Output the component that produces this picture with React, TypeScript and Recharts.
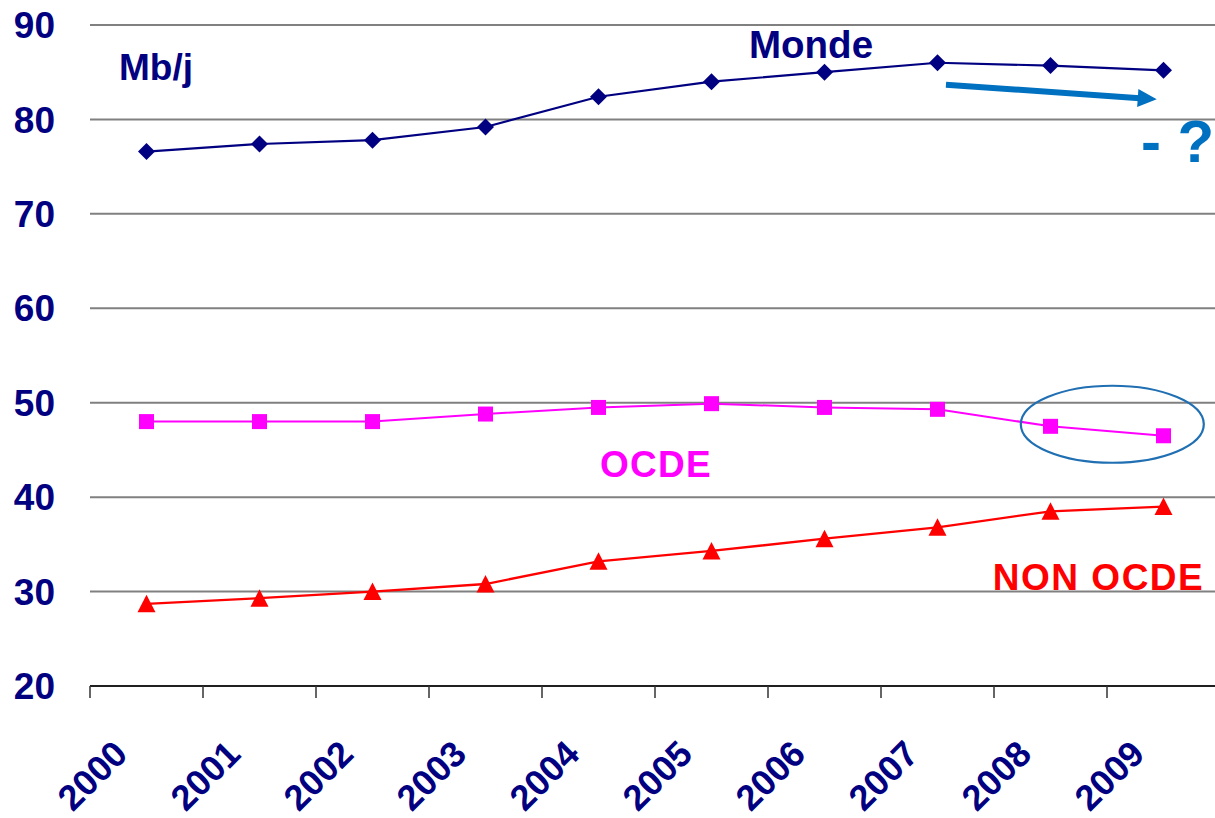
import React from 'react';
import { LineChart, Line, XAxis, YAxis, CartesianGrid, ReferenceLine, ReferenceDot } from 'recharts';

const years = ['2000', '2001', '2002', '2003', '2004', '2005', '2006', '2007', '2008', '2009'];
const monde = [76.6, 77.4, 77.8, 79.2, 82.4, 84.0, 85.0, 86.0, 85.7, 85.2];
const ocde = [48.0, 48.0, 48.0, 48.8, 49.5, 49.9, 49.5, 49.3, 47.5, 46.5];
const nonOcde = [28.7, 29.3, 30.0, 30.8, 33.2, 34.3, 35.6, 36.8, 38.5, 39.0];
const yTicks = [20, 30, 40, 50, 60, 70, 80, 90];
const xBoundaries = [0, 1, 2, 3, 4, 5, 6, 7, 8, 9, 10];

const data = years.map((y, i) => ({ x: i + 0.5, year: y, monde: monde[i], ocde: ocde[i], nonOcde: nonOcde[i] }));

const NAVY = '#000080';
const MAGENTA = '#FF00FF';
const RED = '#FF0000';
const BLUE = '#0070C0';
const FONT = '"Liberation Sans", Arial, sans-serif';

const CHART_W = 1230;
const CHART_H = 818;
const MARGIN = { top: 25, right: 10, left: 0, bottom: 0 };
const Y_W = 90;
const X_H = 132;
const HALF_BAND = (CHART_W - MARGIN.right - MARGIN.left - Y_W) / years.length / 2;

const Diamond = (p: any) => {
  const { cx, cy } = p;
  if (cx == null || cy == null) return null;
  const s = 8.5;
  return <polygon key={p.key} points={`${cx},${cy - s} ${cx + s},${cy} ${cx},${cy + s} ${cx - s},${cy}`} fill={NAVY} />;
};
const Square = (p: any) => {
  const { cx, cy } = p;
  if (cx == null || cy == null) return null;
  const s = 7.5;
  return <rect key={p.key} x={cx - s} y={cy - s} width={2 * s} height={2 * s} fill={MAGENTA} />;
};
const Triangle = (p: any) => {
  const { cx, cy } = p;
  if (cx == null || cy == null) return null;
  return <polygon key={p.key} points={`${cx},${cy - 9} ${cx + 9},${cy + 8.5} ${cx - 9},${cy + 8.5}`} fill={RED} />;
};

const XTick = (p: any) => {
  const { x, y, payload } = p;
  const v = payload.value as number;
  const ax = x + HALF_BAND - 17;
  const ay = y + 70;
  return (
    <g>
      <line x1={x} y1={y} x2={x} y2={y + 12} stroke="#333" strokeWidth={1.5} />
      {v < years.length && (
        <text
          x={ax}
          y={ay}
          textAnchor="end"
          transform={`rotate(-45 ${ax} ${ay})`}
          fill={NAVY}
          fontSize={36}
          fontWeight="bold"
          fontFamily={FONT}
        >
          {years[v]}
        </text>
      )}
    </g>
  );
};

const makeText = (txt: string, color: string, size: number, spacing = 0) => (p: any) => (
  <text x={p.cx} y={p.cy} fill={color} fontSize={size} fontWeight="bold" fontFamily={FONT} letterSpacing={spacing}>
    {txt}
  </text>
);

const Arrow = (p: any) => {
  const { x1, y1, x2, y2 } = p;
  if (x1 == null) return null;
  const dx = x2 - x1;
  const dy = y2 - y1;
  const len = Math.sqrt(dx * dx + dy * dy);
  const ux = dx / len;
  const uy = dy / len;
  const head = 19;
  const hw = 9;
  const bx = x2 - ux * head;
  const by = y2 - uy * head;
  return (
    <g>
      <line x1={x1} y1={y1} x2={bx + ux * 2} y2={by + uy * 2} stroke={BLUE} strokeWidth={6} />
      <polygon points={`${x2},${y2} ${bx - uy * hw},${by + ux * hw} ${bx + uy * hw},${by - ux * hw}`} fill={BLUE} />
    </g>
  );
};

const EllipseShape = (p: any) => (
  <ellipse cx={p.cx} cy={p.cy} rx={91.5} ry={38.5} fill="none" stroke="#1F6FB2" strokeWidth={2.2} />
);

export default function App() {
  return (
    <div style={{ position: 'fixed', left: 0, top: 0, width: 1215, height: 818, overflow: 'hidden', background: '#fff' }}>
      <LineChart width={CHART_W} height={CHART_H} data={data} margin={MARGIN}>
        <CartesianGrid vertical={false} stroke="#808080" strokeWidth={2} />
        <XAxis
          type="number"
          dataKey="x"
          domain={[0, 10]}
          ticks={xBoundaries}
          interval={0}
          height={X_H}
          tickLine={false}
          tickSize={0}
          tickMargin={0}
          axisLine={{ stroke: '#000', strokeWidth: 1.5 }}
          tick={<XTick />}
          allowDataOverflow
        />
        <YAxis
          type="number"
          domain={[20, 90]}
          ticks={yTicks}
          interval={0}
          width={Y_W}
          axisLine={false}
          tickLine={false}
          tickSize={0}
          tickMargin={35}
          tick={{ fill: NAVY, fontSize: 37, fontWeight: 'bold', fontFamily: FONT }}
        />
        <Line dataKey="monde" stroke={NAVY} strokeWidth={2.2} dot={Diamond} isAnimationActive={false} />
        <Line dataKey="ocde" stroke={MAGENTA} strokeWidth={2} dot={Square} isAnimationActive={false} />
        <Line dataKey="nonOcde" stroke={RED} strokeWidth={2.3} dot={Triangle} isAnimationActive={false} />
        <ReferenceLine
          segment={[{ x: 7.575, y: 83.68 }, { x: 9.44, y: 82.13 }]}
          shape={Arrow}
          ifOverflow="visible"
        />
        <ReferenceDot x={9.047} y={47.72} r={1} shape={EllipseShape} ifOverflow="visible" />
        <ReferenceDot x={0.257} y={84.17} r={1} shape={makeText('Mb/j', NAVY, 37)} ifOverflow="visible" />
        <ReferenceDot x={5.832} y={86.47} r={1} shape={makeText('Monde', NAVY, 38.5)} ifOverflow="visible" />
        <ReferenceDot x={4.513} y={42.13} r={1} shape={makeText('OCDE', MAGENTA, 37, 1.3)} ifOverflow="visible" />
        <ReferenceDot x={7.99} y={30.17} r={1} shape={makeText('NON OCDE', RED, 37, 1.5)} ifOverflow="visible" />
        <ReferenceDot x={9.3} y={75.49} r={1} shape={makeText('- ?', BLUE, 60)} ifOverflow="visible" />
      </LineChart>
    </div>
  );
}
